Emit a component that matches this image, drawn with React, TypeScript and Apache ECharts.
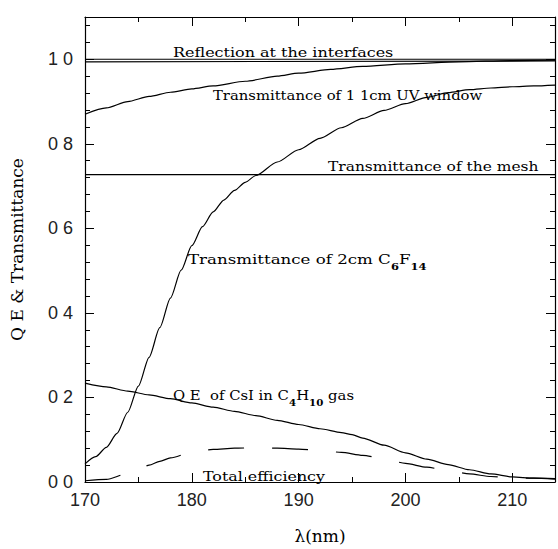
import React, { useEffect, useRef } from "react";
import * as echarts from "echarts";

// wavelength (nm) / value pairs
const reflUpperL = [170, 214];
const reflUpperV = [1.0, 1.0];
const reflLowerL = [170, 214];
const reflLowerV = [0.994, 0.996];

const uvL = [170, 172, 174, 176, 178, 180, 182, 185, 188, 190, 193, 196, 200, 205, 210, 214];
const uvV = [0.87, 0.885, 0.9, 0.912, 0.922, 0.93, 0.937, 0.948, 0.96, 0.967, 0.976, 0.983, 0.989, 0.994, 0.997, 0.998];

const meshL = [170, 214];
const meshV = [0.727, 0.727];

const c6L = [170, 171, 172, 173, 174, 175, 176, 177, 178, 179, 180, 181, 182, 183, 184, 185, 186, 188, 190, 192, 194, 196, 198, 200, 202, 204, 206, 208, 210, 212, 214];
const c6V = [0.043, 0.06, 0.082, 0.115, 0.165, 0.227, 0.295, 0.365, 0.435, 0.501, 0.559, 0.604, 0.639, 0.667, 0.69, 0.709, 0.725, 0.757, 0.786, 0.813, 0.838, 0.86, 0.879, 0.895, 0.91, 0.921, 0.928, 0.932, 0.935, 0.937, 0.939];

const qeL = [170, 172, 174, 176, 178, 180, 182, 184, 186, 188, 190, 192, 194, 195, 196, 198, 200, 202, 204, 206, 208, 210, 212, 214];
const qeV = [0.234, 0.225, 0.215, 0.206, 0.197, 0.187, 0.177, 0.167, 0.157, 0.146, 0.136, 0.126, 0.117, 0.112, 0.104, 0.087, 0.069, 0.054, 0.041, 0.029, 0.019, 0.012, 0.009, 0.007];

const totL = [170, 172, 174, 175, 176, 177, 178, 180, 182, 184, 186, 188, 190, 192, 194, 196, 198, 200, 202, 204, 206, 208, 210, 212, 214];
const totV = [0.003, 0.006, 0.02, 0.03, 0.04, 0.049, 0.057, 0.07, 0.077, 0.08, 0.081, 0.08, 0.078, 0.075, 0.07, 0.063, 0.055, 0.044, 0.035, 0.027, 0.019, 0.013, 0.01, 0.009, 0.008];

const xMin = 170;
const xMax = 214;
const yMin = 0;
const yMax = 1.1;

const pairs = (l: number[], v: number[]) => l.map((x, i) => [x, v[i]]);

const SERIF = '"DejaVu Serif"';
const SANS = '"Liberation Sans"';

export default function App() {
  const ref = useRef<HTMLDivElement>(null);
  useEffect(() => {
    if (!ref.current) return;
    const chart = echarts.init(ref.current, null, { renderer: "svg" });
    const axisCommon = {
      axisLine: { show: true, onZero: false, lineStyle: { color: "#000", width: 1.2 } },
      axisTick: { show: true, inside: true, length: 9, lineStyle: { color: "#000", width: 1 } },
      splitLine: { show: false },
    };
    const lineBase = (name: string, data: number[][], extra: any = {}) => ({
      type: "line",
      name,
      data,
      showSymbol: false,
      symbol: "none",
      smooth: 0.25,
      smoothMonotone: "x",
      lineStyle: { color: "#000", width: 1.2, ...extra },
      silent: true,
    });
    const txt = (x: number, y: number, sx: number, text: string, rich?: any) => ({
      type: "text",
      x,
      y,
      scaleX: sx,
      style: {
        text,
        fill: "#000",
        font: `13px ${SERIF}`,
        verticalAlign: "middle",
        align: "left",
        rich,
      },
    });
    const subRich = {
      a: { fontFamily: SERIF, fontSize: 13, fill: "#000", lineHeight: 18, verticalAlign: "top" },
      b: { fontFamily: SERIF, fontSize: 9, fontWeight: "bold", fill: "#000", lineHeight: 18, verticalAlign: "bottom", padding: [9, 0, 0, 0] },
    };
    chart.setOption({
      animation: false,
      backgroundColor: "#fff",
      grid: { left: 81, right: 1, top: 17, bottom: 52 },
      xAxis: [
        {
          type: "value",
          min: xMin,
          max: xMax,
          interval: 10,
          position: "bottom",
          ...axisCommon,
          minorTick: { show: true, splitNumber: 2, length: 5, lineStyle: { color: "#000" } },
          axisLabel: {
            color: "#222",
            fontFamily: SANS,
            fontSize: 18,
            margin: 9,
            formatter: (v: number) => (v % 10 === 0 ? String(v) : ""),
          },
          name: "λ(nm)",
          nameLocation: "middle",
          nameGap: 45,
          nameTextStyle: { fontFamily: SERIF, fontSize: 17, color: "#000" },
        },
        {
          type: "value",
          min: xMin,
          max: xMax,
          interval: 10,
          position: "top",
          ...axisCommon,
          minorTick: { show: true, splitNumber: 2, length: 5, lineStyle: { color: "#000" } },
          axisLabel: { show: false },
        },
      ],
      yAxis: [
        {
          type: "value",
          min: yMin,
          max: yMax,
          interval: 0.2,
          position: "left",
          ...axisCommon,
          minorTick: { show: true, splitNumber: 5, length: 5, lineStyle: { color: "#000" } },
          axisLabel: {
            color: "#222",
            fontFamily: SANS,
            fontSize: 18,
            margin: 12,
            formatter: (v: number) => (v <= 1.0001 ? v.toFixed(1).replace(".", " ") : ""),
          },
          name: "Q E & Transmittance",
          nameLocation: "middle",
          nameGap: 60,
          nameTextStyle: { fontFamily: SERIF, fontSize: 17, color: "#000" },
        },
        {
          type: "value",
          min: yMin,
          max: yMax,
          interval: 0.2,
          position: "right",
          ...axisCommon,
          minorTick: { show: true, splitNumber: 5, length: 5, lineStyle: { color: "#000" } },
          axisLabel: { show: false },
        },
      ],
      series: [
        lineBase("Reflection upper", pairs(reflUpperL, reflUpperV)),
        lineBase("Reflection at the interfaces", pairs(reflLowerL, reflLowerV)),
        lineBase("Transmittance of 1 1cm UV window", pairs(uvL, uvV)),
        lineBase("Transmittance of the mesh", pairs(meshL, meshV)),
        lineBase("Transmittance of 2cm C6F14", pairs(c6L, c6V)),
        lineBase("QE of CsI in C4H10 gas", pairs(qeL, qeV)),
        lineBase("Total efficiency", pairs(totL, totV), { type: [36, 28] }),
      ],
      graphic: [
        txt(173, 52, 1.23, "Reflection at the interfaces"),
        txt(213, 95, 1.14, "Transmittance of 1 1cm UV window"),
        txt(328, 166, 1.19, "Transmittance of the mesh"),
        txt(188, 262, 1.28, "{a|Transmittance of 2cm C}{b|6}{a|F}{b|14}", subRich),
        txt(173, 398, 1.14, "{a|Q E  of CsI in C}{b|4}{a|H}{b|10}{a| gas}", subRich),
        txt(203, 477, 1.22, "Total efficiency"),
      ],
    });
    return () => chart.dispose();
  }, []);
  return (
    <div
      ref={ref}
      style={{ position: "fixed", left: 0, top: 0, width: 558, height: 549, background: "#fff" }}
    />
  );
}
